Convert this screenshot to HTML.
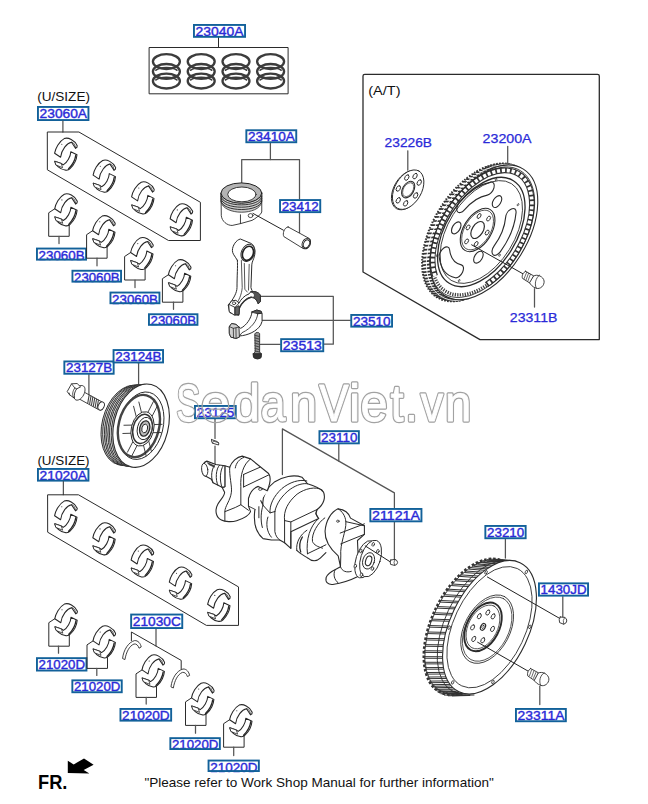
<!DOCTYPE html>
<html lang="en">
<head>
<meta charset="utf-8">
<title>Piston, crankshaft and flywheel parts diagram</title>
<style>
html,body{margin:0;padding:0;background:#fff;}
body{width:648px;height:804px;overflow:hidden;}
svg{display:block;font-family:"Liberation Sans",sans-serif;}
</style>
</head>
<body>
<svg width="648" height="804" viewBox="0 0 648 804" stroke-linecap="round" stroke-linejoin="round">
<rect x="0" y="0" width="648" height="804" fill="#ffffff"/>
<defs>
<g id="brg" fill="#fff" stroke="#262626" stroke-width="1.05">
<path d="M0,15.3 C0.8,10.6 4.4,3.4 9.6,0.7 C13.4,-0.9 20.2,2.2 22.6,7.8 C22.8,9.2 22,10 20.9,10.4 L16.9,4.3 C12.4,5 6.9,11.6 6,19.3 Z"/>
<path d="M16.9,4.3 C18.8,4.4 20.6,6.4 20.9,10.4" fill="none" stroke-width="0.8"/>
<path d="M0.3,23.4 C0.9,27.4 5.4,31.4 10.4,32.2 C12.4,32.6 14.2,32.2 15.4,30.8 C19,27.4 22,21.6 22.4,16.8 L16.2,13.8 C16,18.6 12.6,24.8 8.6,27 L6.7,25.6 Z"/>
<path d="M0.3,23.4 L6.7,25.6 L8,29.8 L1.6,27.2 Z" stroke-width="0.8"/>
<path d="M21.2,17.2 C20.6,21.6 17.8,27 14,30.9" fill="none" stroke-width="1.3"/>
<circle cx="7.2" cy="6.4" r="0.55" fill="#2b2b2b" stroke="none"/>
</g>
</defs>
<path d="M218.50,37.00 L218.50,47.40" fill="none" stroke="#2b2b2b" stroke-width="1"/>
<rect x="149.5" y="47.5" width="138.6" height="46.3" fill="none" stroke="#2b2b2b" stroke-width="1"/>
<ellipse cx="166.4" cy="61.6" rx="13.5" ry="7.4" fill="none" stroke="#3c3c3c" stroke-width="2.3"/>
<ellipse cx="166.4" cy="71.4" rx="13.5" ry="7.4" fill="none" stroke="#3c3c3c" stroke-width="2.3"/>
<path d="M155.9,70.2 A11.5,4.6 0 0 1 176.9,70.2" fill="none" stroke="#3c3c3c" stroke-width="1.6"/>
<ellipse cx="166.4" cy="81.1" rx="13.5" ry="7.4" fill="none" stroke="#3c3c3c" stroke-width="2.3"/>
<path d="M155.9,79.89999999999999 A11.5,4.6 0 0 1 176.9,79.89999999999999" fill="none" stroke="#3c3c3c" stroke-width="1.6"/>
<ellipse cx="201.2" cy="61.6" rx="13.5" ry="7.4" fill="none" stroke="#3c3c3c" stroke-width="2.3"/>
<ellipse cx="201.2" cy="71.4" rx="13.5" ry="7.4" fill="none" stroke="#3c3c3c" stroke-width="2.3"/>
<path d="M190.7,70.2 A11.5,4.6 0 0 1 211.7,70.2" fill="none" stroke="#3c3c3c" stroke-width="1.6"/>
<ellipse cx="201.2" cy="81.1" rx="13.5" ry="7.4" fill="none" stroke="#3c3c3c" stroke-width="2.3"/>
<path d="M190.7,79.89999999999999 A11.5,4.6 0 0 1 211.7,79.89999999999999" fill="none" stroke="#3c3c3c" stroke-width="1.6"/>
<ellipse cx="236" cy="61.6" rx="13.5" ry="7.4" fill="none" stroke="#3c3c3c" stroke-width="2.3"/>
<ellipse cx="236" cy="71.4" rx="13.5" ry="7.4" fill="none" stroke="#3c3c3c" stroke-width="2.3"/>
<path d="M225.5,70.2 A11.5,4.6 0 0 1 246.5,70.2" fill="none" stroke="#3c3c3c" stroke-width="1.6"/>
<ellipse cx="236" cy="81.1" rx="13.5" ry="7.4" fill="none" stroke="#3c3c3c" stroke-width="2.3"/>
<path d="M225.5,79.89999999999999 A11.5,4.6 0 0 1 246.5,79.89999999999999" fill="none" stroke="#3c3c3c" stroke-width="1.6"/>
<ellipse cx="270.6" cy="61.6" rx="13.5" ry="7.4" fill="none" stroke="#3c3c3c" stroke-width="2.3"/>
<ellipse cx="270.6" cy="71.4" rx="13.5" ry="7.4" fill="none" stroke="#3c3c3c" stroke-width="2.3"/>
<path d="M260.1,70.2 A11.5,4.6 0 0 1 281.1,70.2" fill="none" stroke="#3c3c3c" stroke-width="1.6"/>
<ellipse cx="270.6" cy="81.1" rx="13.5" ry="7.4" fill="none" stroke="#3c3c3c" stroke-width="2.3"/>
<path d="M260.1,79.89999999999999 A11.5,4.6 0 0 1 281.1,79.89999999999999" fill="none" stroke="#3c3c3c" stroke-width="1.6"/>
<rect x="193.95" y="24.95" width="51.10" height="11.90" fill="#fff" stroke="none"/>
<text x="195.60" y="35.90" fill="#2a2ad8" stroke="#2a2ad8" stroke-width="0.4" font-size="13" textLength="48.0" lengthAdjust="spacingAndGlyphs">23040A</text>
<rect x="193.95" y="24.95" width="51.10" height="11.90" fill="none" stroke="#12619a" stroke-width="1.9" stroke-linejoin="miter"/>
<text x="37.20" y="101.20" fill="#111" stroke="#111" stroke-width="0" font-size="12.6" textLength="52.8" lengthAdjust="spacingAndGlyphs">(U/SIZE)</text>
<rect x="37.95" y="106.95" width="50.50" height="13.10" fill="#fff" stroke="none"/>
<text x="39.60" y="117.90" fill="#2a2ad8" stroke="#2a2ad8" stroke-width="0.4" font-size="13" textLength="47.4" lengthAdjust="spacingAndGlyphs">23060A</text>
<rect x="37.95" y="106.95" width="50.50" height="13.10" fill="none" stroke="#12619a" stroke-width="1.9" stroke-linejoin="miter"/>
<path d="M62.90,121.00 L62.90,132.00" fill="none" stroke="#555" stroke-width="1.25"/>
<path d="M47.70,132.00 L78.90,132.00 L200.40,202.30 L200.40,240.50 L168.50,240.50 L47.70,170.00 Z" fill="none" stroke="#2b2b2b" stroke-width="1"/>
<use href="#brg" x="54.6" y="137.9"/>
<use href="#brg" x="93.1" y="159.8"/>
<use href="#brg" x="131.6" y="181.6"/>
<use href="#brg" x="170.1" y="203.5"/>
<path d="M55.20,208.50 L48.70,212.80 L48.70,236.30 L69.20,236.30 L69.20,225.00" fill="none" stroke="#2b2b2b" stroke-width="1"/>
<path d="M59.00,236.30 L59.00,243.60" fill="none" stroke="#555" stroke-width="1.25"/>
<use href="#brg" x="54.7" y="193.5"/>
<rect x="36.95" y="248.55" width="49.10" height="11.10" fill="#fff" stroke="none"/>
<text x="38.60" y="259.50" fill="#2a2ad8" stroke="#2a2ad8" stroke-width="0.4" font-size="13" textLength="46.0" lengthAdjust="spacingAndGlyphs">23060B</text>
<rect x="36.95" y="248.55" width="49.10" height="11.10" fill="none" stroke="#12619a" stroke-width="1.9" stroke-linejoin="miter"/>
<path d="M93.10,230.40 L86.60,234.70 L86.60,258.20 L107.10,258.20 L107.10,246.90" fill="none" stroke="#2b2b2b" stroke-width="1"/>
<path d="M97.00,258.20 L97.00,265.80" fill="none" stroke="#555" stroke-width="1.25"/>
<use href="#brg" x="92.6" y="215.4"/>
<rect x="72.45" y="270.75" width="48.60" height="10.90" fill="#fff" stroke="none"/>
<text x="74.10" y="281.70" fill="#2a2ad8" stroke="#2a2ad8" stroke-width="0.4" font-size="13" textLength="45.5" lengthAdjust="spacingAndGlyphs">23060B</text>
<rect x="72.45" y="270.75" width="48.60" height="10.90" fill="none" stroke="#12619a" stroke-width="1.9" stroke-linejoin="miter"/>
<path d="M131.10,252.20 L124.60,256.50 L124.60,280.00 L145.10,280.00 L145.10,268.70" fill="none" stroke="#2b2b2b" stroke-width="1"/>
<path d="M135.00,280.00 L135.00,287.60" fill="none" stroke="#555" stroke-width="1.25"/>
<use href="#brg" x="130.6" y="237.2"/>
<rect x="110.45" y="292.55" width="49.00" height="10.70" fill="#fff" stroke="none"/>
<text x="112.10" y="303.50" fill="#2a2ad8" stroke="#2a2ad8" stroke-width="0.4" font-size="13" textLength="45.9" lengthAdjust="spacingAndGlyphs">23060B</text>
<rect x="110.45" y="292.55" width="49.00" height="10.70" fill="none" stroke="#12619a" stroke-width="1.9" stroke-linejoin="miter"/>
<path d="M168.90,274.40 L162.40,278.70 L162.40,302.20 L182.90,302.20 L182.90,290.90" fill="none" stroke="#2b2b2b" stroke-width="1"/>
<path d="M173.50,302.20 L173.50,309.30" fill="none" stroke="#555" stroke-width="1.25"/>
<use href="#brg" x="168.4" y="259.4"/>
<rect x="148.95" y="314.25" width="48.50" height="10.60" fill="#fff" stroke="none"/>
<text x="150.60" y="325.20" fill="#2a2ad8" stroke="#2a2ad8" stroke-width="0.4" font-size="13" textLength="45.4" lengthAdjust="spacingAndGlyphs">23060B</text>
<rect x="148.95" y="314.25" width="48.50" height="10.60" fill="none" stroke="#12619a" stroke-width="1.9" stroke-linejoin="miter"/>
<text x="37.40" y="464.60" fill="#111" stroke="#111" stroke-width="0" font-size="12.6" textLength="52.2" lengthAdjust="spacingAndGlyphs">(U/SIZE)</text>
<rect x="37.95" y="468.95" width="50.50" height="11.70" fill="#fff" stroke="none"/>
<text x="39.60" y="479.90" fill="#2a2ad8" stroke="#2a2ad8" stroke-width="0.4" font-size="13" textLength="47.4" lengthAdjust="spacingAndGlyphs">21020A</text>
<rect x="37.95" y="468.95" width="50.50" height="11.70" fill="none" stroke="#12619a" stroke-width="1.9" stroke-linejoin="miter"/>
<path d="M63.30,481.60 L63.30,494.80" fill="none" stroke="#2b2b2b" stroke-width="1"/>
<path d="M48.00,494.80 L78.50,494.80 L238.50,586.90 L238.50,625.40 L206.40,625.40 L48.00,532.40 Z" fill="none" stroke="#2b2b2b" stroke-width="1"/>
<use href="#brg" x="54.6" y="500.4"/>
<use href="#brg" x="92.8" y="522.5"/>
<use href="#brg" x="131.1" y="544.7"/>
<use href="#brg" x="169.3" y="566.8"/>
<use href="#brg" x="207.6" y="589.0"/>
<path d="M55.30,618.40 L48.80,622.70 L48.80,646.20 L69.30,646.20 L69.30,634.90" fill="none" stroke="#2b2b2b" stroke-width="1"/>
<path d="M58.50,646.20 L58.50,653.20" fill="none" stroke="#555" stroke-width="1.25"/>
<use href="#brg" x="54.8" y="603.4"/>
<rect x="36.95" y="658.15" width="49.50" height="12.40" fill="#fff" stroke="none"/>
<text x="38.60" y="669.10" fill="#2a2ad8" stroke="#2a2ad8" stroke-width="0.4" font-size="13" textLength="46.4" lengthAdjust="spacingAndGlyphs">21020D</text>
<rect x="36.95" y="658.15" width="49.50" height="12.40" fill="none" stroke="#12619a" stroke-width="1.9" stroke-linejoin="miter"/>
<path d="M93.50,640.60 L87.00,644.90 L87.00,668.40 L107.50,668.40 L107.50,657.10" fill="none" stroke="#2b2b2b" stroke-width="1"/>
<path d="M96.80,668.40 L96.80,675.40" fill="none" stroke="#555" stroke-width="1.25"/>
<use href="#brg" x="93.0" y="625.6"/>
<rect x="72.35" y="680.35" width="49.40" height="11.90" fill="#fff" stroke="none"/>
<text x="74.00" y="691.30" fill="#2a2ad8" stroke="#2a2ad8" stroke-width="0.4" font-size="13" textLength="46.3" lengthAdjust="spacingAndGlyphs">21020D</text>
<rect x="72.35" y="680.35" width="49.40" height="11.90" fill="none" stroke="#12619a" stroke-width="1.9" stroke-linejoin="miter"/>
<path d="M142.50,669.60 L136.00,673.90 L136.00,697.40 L156.50,697.40 L156.50,686.10" fill="none" stroke="#2b2b2b" stroke-width="1"/>
<path d="M146.20,697.40 L146.20,704.00" fill="none" stroke="#555" stroke-width="1.25"/>
<use href="#brg" x="142.0" y="654.6"/>
<rect x="120.45" y="708.95" width="50.70" height="11.70" fill="#fff" stroke="none"/>
<text x="122.10" y="719.90" fill="#2a2ad8" stroke="#2a2ad8" stroke-width="0.4" font-size="13" textLength="47.6" lengthAdjust="spacingAndGlyphs">21020D</text>
<rect x="120.45" y="708.95" width="50.70" height="11.70" fill="none" stroke="#12619a" stroke-width="1.9" stroke-linejoin="miter"/>
<path d="M192.00,697.60 L185.50,701.90 L185.50,725.40 L206.00,725.40 L206.00,714.10" fill="none" stroke="#2b2b2b" stroke-width="1"/>
<path d="M195.50,725.40 L195.50,733.20" fill="none" stroke="#555" stroke-width="1.25"/>
<use href="#brg" x="191.5" y="682.6"/>
<rect x="170.35" y="738.15" width="49.50" height="10.90" fill="#fff" stroke="none"/>
<text x="172.00" y="749.10" fill="#2a2ad8" stroke="#2a2ad8" stroke-width="0.4" font-size="13" textLength="46.4" lengthAdjust="spacingAndGlyphs">21020D</text>
<rect x="170.35" y="738.15" width="49.50" height="10.90" fill="none" stroke="#12619a" stroke-width="1.9" stroke-linejoin="miter"/>
<path d="M230.10,719.40 L223.60,723.70 L223.60,747.20 L244.10,747.20 L244.10,735.90" fill="none" stroke="#2b2b2b" stroke-width="1"/>
<path d="M233.70,747.20 L233.70,755.60" fill="none" stroke="#555" stroke-width="1.25"/>
<use href="#brg" x="229.6" y="704.4"/>
<rect x="208.55" y="760.55" width="50.30" height="10.50" fill="#fff" stroke="none"/>
<text x="210.20" y="771.50" fill="#2a2ad8" stroke="#2a2ad8" stroke-width="0.4" font-size="13" textLength="47.2" lengthAdjust="spacingAndGlyphs">21020D</text>
<rect x="208.55" y="760.55" width="50.30" height="10.50" fill="none" stroke="#12619a" stroke-width="1.9" stroke-linejoin="miter"/>
<path d="M156.00,629.00 L156.00,646.00" fill="none" stroke="#2b2b2b" stroke-width="1"/>
<path d="M131.40,640.60 L131.40,632.00 L181.20,660.40 L181.20,669.00" fill="none" stroke="#2b2b2b" stroke-width="1"/>
<path d="M122.6,658.1 C123.6,649.6 128.6,642.1 134.6,640.6 C138.1,640.3000000000001 140.6,643.6 141.2,647.0 L139.0,648.2 C138.2,645.2 136.2,643.6 134.0,644.0 C129.2,646.0 126.19999999999999,652.2 125.0,659.2 Z" fill="#fff" stroke="#2b2b2b" stroke-width="0.9"/>
<path d="M171,686.5 C172,678 177,670.5 183,669 C186.5,668.7 189,672 189.6,675.4 L187.4,676.6 C186.6,673.6 184.6,672 182.4,672.4 C177.6,674.4 174.6,680.6 173.4,687.6 Z" fill="#fff" stroke="#2b2b2b" stroke-width="0.9"/>
<rect x="131.15" y="614.55" width="51.10" height="13.50" fill="#fff" stroke="none"/>
<text x="132.80" y="625.50" fill="#2a2ad8" stroke="#2a2ad8" stroke-width="0.4" font-size="13" textLength="48.0" lengthAdjust="spacingAndGlyphs">21030C</text>
<rect x="131.15" y="614.55" width="51.10" height="13.50" fill="none" stroke="#12619a" stroke-width="1.9" stroke-linejoin="miter"/>
<text x="38.00" y="788.60" fill="#000" stroke="#000" stroke-width="0" font-size="20" font-weight="bold" textLength="29.4" lengthAdjust="spacingAndGlyphs">FR.</text>
<path d="M67.8,760.8 L73.7,764.4 L84,758.5 L93.6,764.7 L83.7,770.1 L89.4,773.5 L67.8,773.1 Z" fill="#000" stroke="none"/>
<text x="144.40" y="787.20" fill="#111" stroke="#111" stroke-width="0" font-size="12.9" textLength="349.4" lengthAdjust="spacingAndGlyphs">&quot;Please refer to Work Shop Manual for further information&quot;</text>
<path d="M270.40,143.00 L270.40,159.50" fill="none" stroke="#555" stroke-width="1.25"/>
<path d="M241.70,183.30 L241.70,159.50 L299.50,159.50 L299.50,199.00" fill="none" stroke="#555" stroke-width="1.25"/>
<path d="M299.50,213.00 L299.50,232.70" fill="none" stroke="#555" stroke-width="1.25"/>
<path d="M221.02 193.06 L221.30 215.74 C221.94 221.30 227.04 225.46 232.13 225.46 L240.46 223.61 L252.04 220.37 C255.74 218.52 258.52 215.74 260.37 214.35 L261.76 212.04 L261.76 193.06 Z" fill="#fff" stroke="#2b2b2b" stroke-width="0.9" />
<path d="M240.46 214.81 L240.46 223.61" fill="none" stroke="#2b2b2b" stroke-width="0.9" />
<path d="M221.02 193.52 C221.48 205.56 261.30 205.56 261.76 193.52 L261.76 201.85 C259.44 215.74 223.33 215.74 221.02 201.85 Z" fill="#cfcfcf" stroke="#2b2b2b" stroke-width="0.8" />
<path d="M221.11 196.30 C221.94 207.87 260.83 207.87 261.76 196.30" fill="none" stroke="#222" stroke-width="0.9" />
<path d="M221.11 198.61 C221.94 210.19 260.83 210.19 261.76 198.61" fill="none" stroke="#222" stroke-width="0.9" />
<path d="M221.11 200.93 C221.94 212.50 260.83 212.50 261.76 200.93" fill="none" stroke="#222" stroke-width="0.9" />
<ellipse cx="241.4" cy="193.1" rx="20.4" ry="10.2" fill="#b4b4b4" stroke="#222" stroke-width="1"/>
<ellipse cx="241.9" cy="194.4" rx="14.2" ry="7.4" fill="#fff" stroke="#222" stroke-width="0.9"/>
<ellipse cx="250.6" cy="215.6" rx="2.4" ry="2" fill="#fff" stroke="#222" stroke-width="0.8"/>
<path d="M253.00,213.40 L283.40,230.20" fill="none" stroke="#222" stroke-width="1"/>
<path d="M288.13 226.96 L309.35 238.53 C312.05 240.46 310.12 248.95 303.18 248.56 L283.89 236.60 C282.35 234.29 283.89 227.35 288.13 226.96 Z" fill="#fff" stroke="#2b2b2b" stroke-width="0.9" />
<ellipse cx="306.3" cy="243.6" rx="4" ry="5.4" transform="rotate(25 306.3 243.6)" fill="#fff" stroke="#222" stroke-width="0.9"/>
<ellipse cx="306.5" cy="243.8" rx="2.9" ry="4.2" transform="rotate(25 306.5 243.8)" fill="#fff" stroke="#222" stroke-width="0.9"/>
<rect x="246.35" y="130.25" width="49.90" height="12.00" fill="#fff" stroke="none"/>
<text x="248.00" y="141.20" fill="#2a2ad8" stroke="#2a2ad8" stroke-width="0.4" font-size="13" textLength="46.8" lengthAdjust="spacingAndGlyphs">23410A</text>
<rect x="246.35" y="130.25" width="49.90" height="12.00" fill="none" stroke="#12619a" stroke-width="1.9" stroke-linejoin="miter"/>
<rect x="280.05" y="200.05" width="40.20" height="12.10" fill="#fff" stroke="none"/>
<text x="281.70" y="211.00" fill="#2a2ad8" stroke="#2a2ad8" stroke-width="0.4" font-size="13" textLength="37.1" lengthAdjust="spacingAndGlyphs">23412</text>
<rect x="280.05" y="200.05" width="40.20" height="12.10" fill="none" stroke="#12619a" stroke-width="1.9" stroke-linejoin="miter"/>
<path d="M260.50,296.40 L333.30,296.40 L333.30,344.20 L324.00,344.20" fill="none" stroke="#555" stroke-width="1.25"/>
<path d="M261.40,320.30 L350.30,320.30" fill="none" stroke="#555" stroke-width="1.25"/>
<path d="M260.50,344.40 L280.20,344.40" fill="none" stroke="#555" stroke-width="1.25"/>
<path d="M237.35 260.31 C234.39 255.26 232.40 253.87 232.40 250.38 C232.40 245.68 236.13 239.93 240.40 239.01 L251.46 243.59 C254.95 245.68 255.64 251.78 254.43 256.13 C253.55 259.62 251.81 262.23 251.81 264.84 L250.94 287.49 C251.81 291.85 255.30 294.81 259.65 296.20 L260.52 300.56 C259.65 304.04 257.91 303.17 257.04 300.56 C254.43 297.07 249.20 296.20 244.84 299.69 C241.36 302.30 239.62 305.78 238.75 309.27 L238.75 315.37 L230.03 312.75 L228.29 305.26 C233.52 298.82 237.00 292.72 237.00 287.49 C237.00 275.30 237.87 266.59 237.35 260.31 Z" fill="#fff" stroke="#2b2b2b" stroke-width="1" />
<ellipse cx="247.84" cy="252.90" rx="6.5" ry="8.95" transform="rotate(22 247.84 252.90)" fill="#fff" stroke="#2b2b2b" stroke-width="0.9"/>
<ellipse cx="247.96" cy="253.33" rx="5.3" ry="7.3" transform="rotate(22 247.96 253.33)" fill="#fff" stroke="#222" stroke-width="1.7"/>
<path d="M241.36 260.49 L242.23 287.49 C241.71 294.46 238.75 301.43 234.39 306.66" fill="none" stroke="#2b2b2b" stroke-width="0.8" />
<path d="M244.32 263.45 L244.84 289.23 L247.28 292.02 M249.20 264.32 L248.50 290.10" fill="none" stroke="#2b2b2b" stroke-width="0.8" />
<path d="M228.29 305.26 L234.39 306.66 L238.75 309.27 M234.39 306.66 L234.91 313.97" fill="none" stroke="#2b2b2b" stroke-width="0.8" />
<path d="M251.81 297.07 C254.43 294.81 257.04 294.81 259.65 296.20" fill="none" stroke="#2b2b2b" stroke-width="0.8" />
<ellipse cx="233.4" cy="303.2" rx="1.6" ry="1.1" fill="#fff" stroke="#222" stroke-width="0.7"/>
<path d="M228.97 304.37 L231.58 300.89 L235.94 300.28 L238.99 303.07 C240.73 299.58 244.65 295.23 249.00 293.92 L250.75 291.74 C254.23 290.87 258.59 292.18 260.33 295.23 L260.33 301.32 L258.15 303.76 C256.84 299.58 254.23 296.97 251.18 297.14 C246.39 297.84 241.60 303.07 239.42 307.86 L238.99 314.56 L234.20 315.09 L229.40 311.78 Z" fill="#fff" stroke="#2b2b2b" stroke-width="1" />
<path d="M250.75 291.74 C254.23 290.87 258.59 292.18 260.33 295.23 L260.33 301.32 L258.15 303.76 C257.28 300.45 255.54 298.28 253.36 297.40 C254.67 296.10 255.10 294.36 253.36 293.05 Z" fill="#555" stroke="#2b2b2b" stroke-width="0.8" />
<path d="M235.07 307.42 L238.99 305.68 L239.42 307.86 L238.99 314.56 L235.07 314.83 Z" fill="#666" stroke="#2b2b2b" stroke-width="0.8" />
<path d="M228.97 304.37 L235.07 307.42 L238.99 303.07 M235.07 307.42 L235.07 314.83" fill="none" stroke="#2b2b2b" stroke-width="0.9" />
<ellipse cx="234.02" cy="303.24" rx="1.7" ry="1.4" fill="#fff" stroke="#2b2b2b" stroke-width="0.8"/>
<path d="M239.42 307.86 C241.60 303.07 246.39 297.84 251.18 297.14" fill="none" stroke="#333" stroke-width="1.5" />
<path d="M252.05 311.95 L256.84 310.03 L261.20 311.34 L262.07 313.52 L262.07 321.36 L260.76 324.84 C256.84 331.38 248.13 335.30 239.42 335.99 L239.42 337.04 L235.94 338.43 L230.71 337.04 L229.40 333.55 L229.40 326.59 L231.58 323.54 L235.94 324.41 L238.99 327.02 L240.73 328.33 C246.39 325.28 251.18 318.75 252.05 311.95 Z" fill="#fff" stroke="#2b2b2b" stroke-width="1" />
<path d="M252.05 311.95 L256.84 310.03 L261.20 311.34 L261.63 313.34 L257.71 313.69 Z" fill="#555" stroke="#2b2b2b" stroke-width="0.8" />
<path d="M257.71 313.69 C257.28 320.49 251.62 328.33 242.03 332.68 L239.42 335.99 M257.71 313.69 L261.63 313.34" fill="none" stroke="#2b2b2b" stroke-width="0.85" />
<path d="M229.40 326.59 L231.58 323.54 L235.94 324.41 L238.99 327.02 L239.42 337.04 L235.94 338.43 L230.71 337.04 L229.40 333.55 Z" fill="#cfcfcf" stroke="#2b2b2b" stroke-width="0.9" />
<path d="M229.40 326.59 L233.32 328.33 L238.99 327.02 M233.32 328.33 L233.50 337.74 M235.94 328.33 L236.11 338.08" fill="none" stroke="#2b2b2b" stroke-width="0.8" />
<path d="M254.93 333.55 C255.54 331.99 259.02 331.99 259.63 333.55 L259.63 352.28 L261.37 353.59 L261.02 357.51 C259.46 359.25 255.54 359.25 253.79 357.51 L253.36 353.59 L254.93 352.28 Z" fill="#9a9a9a" stroke="#2b2b2b" stroke-width="0.9" />
<path d="M254.93 335.30 L259.63 336.60 M254.93 337.91 L259.63 339.22 M254.93 340.52 L259.63 341.83 M254.93 343.14 L259.63 344.44 M254.93 345.75 L259.63 347.06 M254.93 348.36 L259.63 349.67 M254.93 350.98 L259.63 352.02" fill="none" stroke="#444" stroke-width="1.0" />
<path d="M253.36 353.59 L261.37 353.59 L261.02 357.51 C259.46 359.25 255.54 359.25 253.79 357.51 Z" fill="#333" stroke="#2b2b2b" stroke-width="0.8" />
<rect x="351.25" y="314.95" width="40.80" height="11.70" fill="#fff" stroke="none"/>
<text x="352.90" y="325.90" fill="#2a2ad8" stroke="#2a2ad8" stroke-width="0.4" font-size="13" textLength="37.7" lengthAdjust="spacingAndGlyphs">23510</text>
<rect x="351.25" y="314.95" width="40.80" height="11.70" fill="none" stroke="#12619a" stroke-width="1.9" stroke-linejoin="miter"/>
<rect x="281.15" y="339.15" width="42.10" height="12.10" fill="#fff" stroke="none"/>
<text x="282.80" y="350.10" fill="#2a2ad8" stroke="#2a2ad8" stroke-width="0.4" font-size="13" textLength="39.0" lengthAdjust="spacingAndGlyphs">23513</text>
<rect x="281.15" y="339.15" width="42.10" height="12.10" fill="none" stroke="#12619a" stroke-width="1.9" stroke-linejoin="miter"/>
<path d="M363,272 L363,76 Q363,74.3 364.8,74.3 L597.5,74.3 Q599.3,74.3 599.3,76 L599.3,339.6 L480,339.6 Z" fill="none" stroke="#2b2b2b" stroke-width="1.3"/>
<text x="368.20" y="94.80" fill="#111" stroke="#111" stroke-width="0" font-size="12.6" textLength="32.3" lengthAdjust="spacingAndGlyphs">(A/T)</text>
<text x="384.60" y="146.60" fill="#2a2ad8" stroke="#2a2ad8" stroke-width="0.25" font-size="12.3" textLength="47.4" lengthAdjust="spacingAndGlyphs">23226B</text>
<text x="482.60" y="143.20" fill="#2a2ad8" stroke="#2a2ad8" stroke-width="0.25" font-size="12.3" textLength="49.0" lengthAdjust="spacingAndGlyphs">23200A</text>
<text x="509.80" y="322.40" fill="#2a2ad8" stroke="#2a2ad8" stroke-width="0.25" font-size="12.3" textLength="47.6" lengthAdjust="spacingAndGlyphs">23311B</text>
<path d="M407.80,150.80 L407.80,170.20" fill="none" stroke="#555" stroke-width="1.25"/>
<path d="M507.70,146.40 L507.70,163.70" fill="none" stroke="#555" stroke-width="1.25"/>
<path d="M534.50,288.70 L534.50,307.00" fill="none" stroke="#555" stroke-width="1.25"/>
<g transform="translate(477.3,232.4) rotate(-58) scale(1,0.58)" fill="none" stroke="#2b2b2b" stroke-linecap="butt">
<circle r="76.4" fill="#fff" stroke-width="2" stroke="#333" stroke-dasharray="1.5 1.5" vector-effect="non-scaling-stroke"/>
</g>
<path d="M469.07,298.21 L462.09,299.99 M465.97,298.88 L458.92,300.68 M462.94,299.31 L455.80,301.12 M459.98,299.49 L452.77,301.31 M457.11,299.43 L449.83,301.24 M454.34,299.12 L446.98,300.93 M451.67,298.57 L444.25,300.36 M449.13,297.78 L441.64,299.55 M446.71,296.75 L439.16,298.49 M444.42,295.48 L436.81,297.19 M442.28,293.98 L434.62,295.65 M440.29,292.26 L432.58,293.89 M438.46,290.32 L430.70,291.90 M436.80,288.16 L429.00,289.69 M435.31,285.81 L427.47,287.27 M433.99,283.25 L426.12,284.65 M432.86,280.52 L424.96,281.85 M431.91,277.60 L423.99,278.86 M431.16,274.52 L423.21,275.70 M430.59,271.29 L422.63,272.38 M430.22,267.91 L422.25,268.92 M430.05,264.41 L422.08,265.33 M430.07,260.78 L422.10,261.61 M430.29,257.06 L422.32,257.79 M430.71,253.24 L422.75,253.87 M431.32,249.35 L423.37,249.88 M432.12,245.39 L424.20,245.82 M433.11,241.39 L425.21,241.72 M434.28,237.35 L426.42,237.58 M435.64,233.29 L427.81,233.42 M437.17,229.24 L429.38,229.26 M438.87,225.19 L431.12,225.11 M440.74,221.17 L433.04,220.98 M442.76,217.18 L435.12,216.90 M444.94,213.26 L437.35,212.87 M447.26,209.40 L439.72,208.92 M449.71,205.63 L442.23,205.05 M452.28,201.95 L444.88,201.28 M454.97,198.39 L447.63,197.62 M457.77,194.95 L450.50,194.10 M460.66,191.64 L453.47,190.71 M463.64,188.49 L456.52,187.47 M466.69,185.49 L459.65,184.40 M469.80,182.66 L462.84,181.50 M472.96,180.02 L466.09,178.79 M476.17,177.57 L469.37,176.27 M479.40,175.31 L472.69,173.96 M482.65,173.26 L476.02,171.86 M485.90,171.43 L479.36,169.98 M489.15,169.83 L482.68,168.33 M492.38,168.44 L485.99,166.92 M495.57,167.30 L489.27,165.74 M498.73,166.39 L492.51,164.81 M501.83,165.72 L495.68,164.12 M504.86,165.29 L498.80,163.68 M507.82,165.11 L501.83,163.49 M510.69,165.17 L504.77,163.56 M513.46,165.48 L507.62,163.87 M516.13,166.03 L510.35,164.44" fill="none" stroke="#333" stroke-width="1.7" stroke-linecap="butt"/>
<g transform="translate(480.92999999999995,232.34500000000003) rotate(-58) scale(1,0.58)" fill="none" stroke="#2b2b2b" stroke-linecap="butt">
<circle r="75.45" stroke-width="0.9" stroke="#fff" vector-effect="non-scaling-stroke"/>
</g>
<g transform="translate(483.9,232.3) rotate(-58) scale(1,0.58)" fill="none" stroke="#2b2b2b" stroke-linecap="butt">
<circle r="74.5" fill="#fff" stroke-width="1.1" vector-effect="non-scaling-stroke"/>
</g>
<g transform="translate(482.3,232.2) rotate(-58) scale(1,0.58)" fill="none" stroke="#2b2b2b" stroke-linecap="butt">
<path d="M-62.17,-28.99 A68.6,68.6 0 1 1 -42.23,54.06" stroke-width="5.8" stroke="#333" vector-effect="non-scaling-stroke"/>
<path d="M-62.17,-28.99 A68.6,68.6 0 1 1 -42.23,54.06" stroke-width="3.6" stroke="#fff" stroke-dasharray="3.2 1.7" vector-effect="non-scaling-stroke"/>
<path d="M-42.79,54.77 A69.5,69.5 0 0 1 -62.99,-29.37" stroke-width="3.4" stroke="#444" stroke-dasharray="1.3 1.2" vector-effect="non-scaling-stroke"/>
<circle r="72.4" stroke-width="0.9" vector-effect="non-scaling-stroke"/>
</g>
<g transform="translate(481.3,232) rotate(-58) scale(1,0.58)" fill="none" stroke="#2b2b2b" stroke-linecap="butt">
<circle r="60.5" fill="#fff" stroke-width="1.3" vector-effect="non-scaling-stroke"/>
<circle r="57" stroke-width="0.9" vector-effect="non-scaling-stroke"/>
</g>
<g transform="translate(477.6,230) rotate(-58) scale(1,0.58)" fill="none" stroke="#2b2b2b" stroke-linecap="butt">
<path d="M13.85,-51.68 A53.5,53.5 0 0 1 47.67,-24.29 A7.25,7.25 0 0 1 34.75,-17.71 A39,39 0 0 0 10.09,-37.67 A7.25,7.25 0 0 1 13.85,-51.68 Z" stroke-width="1.1" vector-effect="non-scaling-stroke"/>
<path d="M35.10,40.38 A53.5,53.5 0 0 1 -6.52,53.10 A7.25,7.25 0 0 1 -4.75,38.71 A39,39 0 0 0 25.59,29.43 A7.25,7.25 0 0 1 35.10,40.38 Z" stroke-width="1.1" vector-effect="non-scaling-stroke"/>
<path d="M-52.33,11.12 A53.5,53.5 0 0 1 -43.28,-31.45 A7.25,7.25 0 0 1 -31.55,-22.92 A39,39 0 0 0 -38.15,8.11 A7.25,7.25 0 0 1 -52.33,11.12 Z" stroke-width="1.1" vector-effect="non-scaling-stroke"/>
<circle cx="34.42" cy="2.41" r="6.6" stroke-width="1.1" vector-effect="non-scaling-stroke"/>
<circle cx="-22.63" cy="26.04" r="6.6" stroke-width="1.1" vector-effect="non-scaling-stroke"/>
<circle cx="-9.51" cy="-33.16" r="6.6" stroke-width="1.1" vector-effect="non-scaling-stroke"/>
<circle cx="42.90" cy="36.00" r="1.2" stroke-width="0.8" vector-effect="non-scaling-stroke"/>
<circle cx="-9.72" cy="55.15" r="1.2" stroke-width="0.8" vector-effect="non-scaling-stroke"/>
<circle cx="-52.62" cy="19.15" r="1.2" stroke-width="0.8" vector-effect="non-scaling-stroke"/>
<circle cx="-42.90" cy="-36.00" r="1.2" stroke-width="0.8" vector-effect="non-scaling-stroke"/>
<circle cx="14.49" cy="-54.09" r="1.2" stroke-width="0.8" vector-effect="non-scaling-stroke"/>
<circle cx="52.62" cy="-19.15" r="1.2" stroke-width="0.8" vector-effect="non-scaling-stroke"/>
<circle r="24" stroke-width="1.1" vector-effect="non-scaling-stroke"/>
<circle r="22" stroke-width="0.8" vector-effect="non-scaling-stroke"/>
<circle r="9.4" stroke-width="1.2" vector-effect="non-scaling-stroke"/>
<circle cx="15.50" cy="5.64" r="2.7" stroke-width="1" vector-effect="non-scaling-stroke"/>
<circle cx="2.87" cy="16.25" r="2.7" stroke-width="1" vector-effect="non-scaling-stroke"/>
<circle cx="-12.64" cy="10.61" r="2.7" stroke-width="1" vector-effect="non-scaling-stroke"/>
<circle cx="-15.50" cy="-5.64" r="2.7" stroke-width="1" vector-effect="non-scaling-stroke"/>
<circle cx="-2.87" cy="-16.25" r="2.7" stroke-width="1" vector-effect="non-scaling-stroke"/>
<circle cx="12.64" cy="-10.61" r="2.7" stroke-width="1" vector-effect="non-scaling-stroke"/>
</g>
<g transform="translate(407.2,190) rotate(-60) scale(1,0.62)" fill="none" stroke="#2b2b2b"><circle r="21.5" fill="#fff" stroke-width="1" vector-effect="non-scaling-stroke"/></g>
<g transform="translate(408.2,189.6) rotate(-60) scale(1,0.62)" fill="none" stroke="#2b2b2b"><circle r="21.5" fill="#fff" stroke-width="1" vector-effect="non-scaling-stroke"/><circle r="9" stroke-width="1.1" vector-effect="non-scaling-stroke"/><circle r="7.6" stroke-width="0.7" vector-effect="non-scaling-stroke"/><circle cx="15.14" cy="-1.32" r="3" stroke-width="1" vector-effect="non-scaling-stroke"/><circle cx="11.64" cy="9.77" r="3" stroke-width="1" vector-effect="non-scaling-stroke"/><circle cx="-1.32" cy="15.14" r="3" stroke-width="1" vector-effect="non-scaling-stroke"/><circle cx="-13.16" cy="7.60" r="3" stroke-width="1" vector-effect="non-scaling-stroke"/><circle cx="-14.28" cy="-5.20" r="3" stroke-width="1" vector-effect="non-scaling-stroke"/><circle cx="-3.93" cy="-14.68" r="3" stroke-width="1" vector-effect="non-scaling-stroke"/><circle cx="9.77" cy="-11.64" r="3" stroke-width="1" vector-effect="non-scaling-stroke"/></g>
<path d="M471.60,244.80 L523.30,274.00" fill="none" stroke="#222" stroke-width="1"/>
<path d="M525.59 271.30 L533.77 275.93 C532.53 279.48 531.30 281.79 529.75 283.02 L522.50 278.40 C521.42 275.62 523.27 272.22 525.59 271.30 Z" fill="#fff" stroke="#2b2b2b" stroke-width="0.9" />
<path d="M526.67 272.22 L524.04 278.70 M528.52 273.30 L526.05 279.94 M530.37 274.38 L527.90 281.02" fill="none" stroke="#2b2b2b" stroke-width="0.7" />
<path d="M533.77 275.93 C537.16 273.77 543.33 276.39 544.10 281.02 C544.57 285.65 540.25 289.51 536.39 288.27 C532.53 287.19 530.22 284.10 529.75 283.02 Z" fill="#fff" stroke="#2b2b2b" stroke-width="0.9" />
<path d="M536.39 288.27 C534.07 284.10 535.62 277.93 539.48 275.15" fill="none" stroke="#2b2b2b" stroke-width="0.8" />
<path d="M505.40,539.00 L505.40,558.00" fill="none" stroke="#555" stroke-width="1.25"/>
<path d="M562.80,596.60 L562.80,617.00" fill="none" stroke="#555" stroke-width="1.25"/>
<path d="M539.80,686.40 L539.80,704.60" fill="none" stroke="#555" stroke-width="1.25"/>
<g transform="translate(471.50,626.70) rotate(-64.7) scale(1,0.552)" fill="none" stroke="#2b2b2b" stroke-linecap="butt">
<circle r="72.60000000000001" fill="#fff" stroke-width="2.6" stroke="#333" stroke-dasharray="2.6 1.9" vector-effect="non-scaling-stroke"/>
<circle r="71.10000000000001" fill="#fff" stroke-width="0.9" vector-effect="non-scaling-stroke"/>
</g>
<path d="M474.42,693.39 L456.20,693.81 M470.26,693.88 L451.99,694.32 M466.28,693.77 L447.96,694.20 M462.51,693.06 L444.13,693.48 M458.99,691.75 L440.56,692.16 M455.74,689.86 L437.26,690.24 M452.79,687.40 L434.28,687.74 M450.18,684.39 L431.63,684.69 M447.93,680.87 L429.35,681.12 M446.05,676.86 L427.44,677.05 M444.57,672.40 L425.94,672.53 M443.49,667.53 L424.84,667.59 M442.83,662.29 L424.17,662.29 M442.59,656.74 L423.93,656.66 M442.78,650.92 L424.12,650.76 M443.38,644.89 L424.74,644.64 M444.41,638.69 L425.78,638.36 M445.85,632.40 L427.24,631.97 M447.68,626.05 L429.09,625.53 M449.89,619.71 L431.33,619.11 M452.46,613.45 L433.94,612.75 M455.36,607.30 L436.88,606.53 M458.57,601.34 L440.14,600.48 M462.07,595.61 L443.68,594.67 M465.81,590.17 L447.48,589.15 M469.76,585.06 L451.49,583.97 M473.90,580.34 L455.68,579.18 M478.17,576.04 L460.02,574.82 M482.55,572.20 L464.46,570.93 M486.99,568.86 L468.96,567.54 M491.46,566.05 L473.49,564.69 M495.91,563.79 L477.99,562.40 M500.29,562.11 L482.44,560.69 M504.58,561.01 L486.80,559.59 M508.74,560.52 L491.01,559.08 M512.72,560.63 L495.04,559.20 M516.49,561.34 L498.87,559.92" fill="none" stroke="#333" stroke-width="1.0" stroke-linecap="butt"/>
<path d="M474.42,694.99 L456.20,695.41 M470.26,695.48 L451.99,695.92 M466.28,695.37 L447.96,695.80 M462.51,694.66 L444.13,695.08 M458.99,693.35 L440.56,693.76 M455.74,691.46 L437.26,691.84 M452.79,689.00 L434.28,689.34 M450.18,685.99 L431.63,686.29 M447.93,682.47 L429.35,682.72 M446.05,678.46 L427.44,678.65 M444.57,674.00 L425.94,674.13 M443.49,669.13 L424.84,669.19 M442.83,663.89 L424.17,663.89 M442.59,658.34 L423.93,658.26 M442.78,652.52 L424.12,652.36 M443.38,646.49 L424.74,646.24 M444.41,640.29 L425.78,639.96 M445.85,634.00 L427.24,633.57 M447.68,627.65 L429.09,627.13 M449.89,621.31 L431.33,620.71 M452.46,615.05 L433.94,614.35 M455.36,608.90 L436.88,608.13 M458.57,602.94 L440.14,602.08 M462.07,597.21 L443.68,596.27 M465.81,591.77 L447.48,590.75 M469.76,586.66 L451.49,585.57 M473.90,581.94 L455.68,580.78 M478.17,577.64 L460.02,576.42 M482.55,573.80 L464.46,572.53 M486.99,570.46 L468.96,569.14 M491.46,567.65 L473.49,566.29 M495.91,565.39 L477.99,564.00 M500.29,563.71 L482.44,562.29 M504.58,562.61 L486.80,561.19 M508.74,562.12 L491.01,560.68 M512.72,562.23 L495.04,560.80 M516.49,562.94 L498.87,561.52" fill="none" stroke="#333" stroke-width="1.0" stroke-linecap="butt"/>
<g transform="translate(484.10,627.05) rotate(-64.7) scale(1,0.552)" fill="none" stroke="#2b2b2b" stroke-linecap="butt">
<circle r="71.4" stroke-width="0.9" vector-effect="non-scaling-stroke"/>
</g>
<g transform="translate(489.50,627.20) rotate(-64.7) scale(1,0.552)" fill="none" stroke="#2b2b2b" stroke-linecap="butt">
<circle r="71.4" fill="#fff" stroke-width="1.1" vector-effect="non-scaling-stroke"/>
<circle r="64.9" stroke-width="0.9" vector-effect="non-scaling-stroke"/>
<circle cx="65.68" cy="17.60" r="1.9" fill="#fff" stroke-width="0.9" vector-effect="non-scaling-stroke"/>
<circle cx="17.60" cy="65.68" r="1.9" fill="#fff" stroke-width="0.9" vector-effect="non-scaling-stroke"/>
<circle cx="-48.08" cy="48.08" r="1.9" fill="#fff" stroke-width="0.9" vector-effect="non-scaling-stroke"/>
<circle cx="-65.68" cy="-17.60" r="1.9" fill="#fff" stroke-width="0.9" vector-effect="non-scaling-stroke"/>
<circle cx="-17.60" cy="-65.68" r="1.9" fill="#fff" stroke-width="0.9" vector-effect="non-scaling-stroke"/>
<circle cx="48.08" cy="-48.08" r="1.9" fill="#fff" stroke-width="0.9" vector-effect="non-scaling-stroke"/>
</g>
<g transform="translate(487.2,629.1) rotate(-62) scale(1,0.614)" fill="none" stroke="#2b2b2b"><circle r="36.9" stroke-width="0.9" vector-effect="non-scaling-stroke"/><circle r="34.6" stroke-width="0.8" vector-effect="non-scaling-stroke"/></g>
<g transform="translate(483,626.9) rotate(-62) scale(1,0.614)" fill="none" stroke="#2b2b2b"><circle r="26.2" stroke-width="1.9" vector-effect="non-scaling-stroke"/><circle r="23.6" stroke-width="0.8" vector-effect="non-scaling-stroke"/><circle r="3.6" stroke-width="1.2" vector-effect="non-scaling-stroke"/><circle r="1.7" stroke-width="0.8" vector-effect="non-scaling-stroke"/><circle cx="14.97" cy="-4.01" r="2.8" fill="#fff" stroke-width="0.95" vector-effect="non-scaling-stroke"/><circle cx="14.05" cy="6.55" r="2.8" fill="#fff" stroke-width="0.95" vector-effect="non-scaling-stroke"/><circle cx="2.69" cy="15.26" r="2.8" fill="#fff" stroke-width="0.95" vector-effect="non-scaling-stroke"/><circle cx="-11.87" cy="9.96" r="2.8" fill="#fff" stroke-width="0.95" vector-effect="non-scaling-stroke"/><circle cx="-14.97" cy="-4.01" r="2.8" fill="#fff" stroke-width="0.95" vector-effect="non-scaling-stroke"/><circle cx="-5.30" cy="-14.57" r="2.8" fill="#fff" stroke-width="0.95" vector-effect="non-scaling-stroke"/><circle cx="7.75" cy="-13.42" r="2.8" fill="#fff" stroke-width="0.95" vector-effect="non-scaling-stroke"/></g>
<path d="M487.40,577.00 L560.00,618.60" fill="none" stroke="#222" stroke-width="1"/>
<path d="M560.2,617 L564.6,617.4 Q567,618.4 566.8,621 Q566.4,623.6 563.6,624.2 L559.6,622.6 Q558.4,619.6 560.2,617 Z" fill="#fff" stroke="#2b2b2b" stroke-width="0.9" />
<path d="M564.6,617.4 Q562.4,620 563.6,624.2" fill="none" stroke="#2b2b2b" stroke-width="0.7" />
<path d="M477.60,642.20 L528.60,671.40" fill="none" stroke="#222" stroke-width="1"/>
<path d="M530.55 668.54 L538.54 672.86 C537.25 676.75 535.95 679.34 534.44 680.64 L527.74 675.89 C526.88 672.86 528.39 669.84 530.55 668.54 Z" fill="#fff" stroke="#2b2b2b" stroke-width="0.9" />
<path d="M531.63 669.84 L529.47 675.89 M533.79 671.13 L531.63 677.18 M535.95 672.43 L533.36 678.48" fill="none" stroke="#2b2b2b" stroke-width="0.7" />
<path d="M538.54 672.86 C542.43 671.13 548.48 674.16 548.91 678.91 C548.91 683.66 544.59 686.68 540.70 685.39 C537.25 684.09 535.09 681.93 534.44 680.64 Z" fill="#fff" stroke="#2b2b2b" stroke-width="0.9" />
<path d="M540.70 685.39 C538.54 681.07 540.27 675.02 544.16 672.86" fill="none" stroke="#2b2b2b" stroke-width="0.8" />
<rect x="485.35" y="525.95" width="40.30" height="12.30" fill="#fff" stroke="none"/>
<text x="487.00" y="536.90" fill="#2a2ad8" stroke="#2a2ad8" stroke-width="0.4" font-size="13" textLength="37.2" lengthAdjust="spacingAndGlyphs">23210</text>
<rect x="485.35" y="525.95" width="40.30" height="12.30" fill="none" stroke="#12619a" stroke-width="1.9" stroke-linejoin="miter"/>
<rect x="538.95" y="583.35" width="49.10" height="12.30" fill="#fff" stroke="none"/>
<text x="540.60" y="594.30" fill="#2a2ad8" stroke="#2a2ad8" stroke-width="0.4" font-size="13" textLength="46.0" lengthAdjust="spacingAndGlyphs">1430JD</text>
<rect x="538.95" y="583.35" width="49.10" height="12.30" fill="none" stroke="#12619a" stroke-width="1.9" stroke-linejoin="miter"/>
<rect x="515.95" y="708.95" width="49.90" height="12.30" fill="#fff" stroke="none"/>
<text x="517.60" y="719.90" fill="#2a2ad8" stroke="#2a2ad8" stroke-width="0.4" font-size="13" textLength="46.8" lengthAdjust="spacingAndGlyphs">23311A</text>
<rect x="515.95" y="708.95" width="49.90" height="12.30" fill="none" stroke="#12619a" stroke-width="1.9" stroke-linejoin="miter"/>
<path d="M88.90,374.60 L88.90,394.00" fill="none" stroke="#555" stroke-width="1.25"/>
<path d="M138.60,363.30 L138.60,384.60" fill="none" stroke="#555" stroke-width="1.25"/>
<g transform="translate(128.10,425.20) rotate(-76) scale(0.96,0.6144)" fill="none" stroke="#2b2b2b" stroke-linecap="butt">
<circle r="42.4" fill="#c2c2c2" stroke-width="0.95" vector-effect="non-scaling-stroke"/>
</g>
<g transform="translate(129.96,425.27) rotate(-76) scale(0.9657142857142857,0.6180571428571429)" fill="none" stroke="#2b2b2b" stroke-linecap="butt">
<circle r="42.4" fill="#fff" stroke-width="0.95" vector-effect="non-scaling-stroke"/>
</g>
<g transform="translate(131.81,425.34) rotate(-76) scale(0.9714285714285714,0.6217142857142858)" fill="none" stroke="#2b2b2b" stroke-linecap="butt">
<circle r="42.4" fill="#c2c2c2" stroke-width="0.95" vector-effect="non-scaling-stroke"/>
</g>
<g transform="translate(133.67,425.41) rotate(-76) scale(0.9771428571428571,0.6253714285714286)" fill="none" stroke="#2b2b2b" stroke-linecap="butt">
<circle r="42.4" fill="#fff" stroke-width="0.95" vector-effect="non-scaling-stroke"/>
</g>
<g transform="translate(135.53,425.49) rotate(-76) scale(0.9828571428571429,0.6290285714285715)" fill="none" stroke="#2b2b2b" stroke-linecap="butt">
<circle r="42.4" fill="#c2c2c2" stroke-width="0.95" vector-effect="non-scaling-stroke"/>
</g>
<g transform="translate(137.39,425.56) rotate(-76) scale(0.9885714285714285,0.6326857142857143)" fill="none" stroke="#2b2b2b" stroke-linecap="butt">
<circle r="42.4" fill="#fff" stroke-width="0.95" vector-effect="non-scaling-stroke"/>
</g>
<g transform="translate(139.24,425.63) rotate(-76) scale(0.9942857142857143,0.6363428571428572)" fill="none" stroke="#2b2b2b" stroke-linecap="butt">
<circle r="42.4" fill="#c2c2c2" stroke-width="0.95" vector-effect="non-scaling-stroke"/>
</g>
<g transform="translate(141.10,425.70) rotate(-76) scale(1.0,0.64)" fill="none" stroke="#2b2b2b" stroke-linecap="butt">
<circle r="42.4" fill="#fff" stroke-width="1.1" vector-effect="non-scaling-stroke"/>
<circle r="34.34" fill="#fff" stroke-width="1" vector-effect="non-scaling-stroke"/>
</g>
<g transform="translate(138.90,426.00) rotate(-76) scale(1.0,0.64)" fill="none" stroke="#2b2b2b" stroke-linecap="butt">
<circle r="31.59" fill="#fff" stroke-width="2.4" stroke="#444" vector-effect="non-scaling-stroke"/>
</g>
<g transform="translate(142.50,428.90) rotate(-76) scale(1.0,0.64)" fill="none" stroke="#2b2b2b" stroke-linecap="butt">
<path d="M14.96,1.05 L29.45,6.26 M12.14,8.82 L26.58,14.13" stroke-width="0.9" vector-effect="non-scaling-stroke"/>
<path d="M6.58,13.48 L9.30,28.63 M-1.57,14.92 L1.05,30.09" stroke-width="0.9" vector-effect="non-scaling-stroke"/>
<path d="M-8.39,12.44 L-20.14,22.37 M-13.70,6.10 L-25.53,15.95" stroke-width="0.9" vector-effect="non-scaling-stroke"/>
<path d="M-14.96,-1.05 L-29.45,-6.26 M-12.14,-8.82 L-26.58,-14.13" stroke-width="0.9" vector-effect="non-scaling-stroke"/>
<path d="M-6.58,-13.48 L-9.30,-28.63 M1.57,-14.92 L-1.05,-30.09" stroke-width="0.9" vector-effect="non-scaling-stroke"/>
<path d="M8.39,-12.44 L20.14,-22.37 M13.70,-6.10 L25.53,-15.95" stroke-width="0.9" vector-effect="non-scaling-stroke"/>
<circle r="17.5" fill="#fff" stroke-width="1" vector-effect="non-scaling-stroke"/>
<circle r="14.8" fill="#fff" stroke-width="1.5" stroke="#333" vector-effect="non-scaling-stroke"/>
</g>
<g transform="translate(144.70,428.50) rotate(-76) scale(1.0,0.64)" fill="none" stroke="#2b2b2b" stroke-linecap="butt">
<circle r="11.4" fill="#fff" stroke-width="1" vector-effect="non-scaling-stroke"/>
<circle r="7.8" fill="#bbb" stroke-width="1.3" vector-effect="non-scaling-stroke"/>
<circle r="4.4" fill="#fff" stroke-width="1" vector-effect="non-scaling-stroke"/>
</g>
<path d="M81.30 390.56 L101.85 401.85 C104.44 402.78 104.26 408.33 100.74 410.19 L98.89 409.81 L78.06 398.33 Z" fill="#fff" stroke="#2b2b2b" stroke-width="0.9" />
<path d="M89.17 394.91 L87.78 402.78 M91.02 395.93 L89.63 403.89 M92.87 396.94 L91.48 405.00 M94.72 397.96 L93.33 406.11 M96.57 398.98 L95.19 407.22 M98.43 400.00 L97.04 408.33" fill="none" stroke="#444" stroke-width="1.1" />
<ellipse cx="101.20" cy="406.02" rx="2.9" ry="4.3" transform="rotate(25 101.20 406.02)" fill="#fff" stroke="#2b2b2b" stroke-width="0.9"/>
<path d="M73.89 393.52 C73.89 388.89 78.52 384.72 82.69 385.65 C85.46 386.57 85.46 390.28 84.26 393.52 C82.69 397.69 78.98 400.93 75.93 400.00 C73.89 399.26 73.70 396.30 73.89 393.52 Z" fill="#fff" stroke="#2b2b2b" stroke-width="0.9" />
<path d="M67.41 391.20 L71.57 383.80 L77.13 383.52 L80.56 386.85 L76.67 388.89 C74.81 391.20 73.89 394.91 74.35 398.15 L69.72 394.91 Z" fill="#fff" stroke="#2b2b2b" stroke-width="0.9" />
<path d="M71.57 383.80 L74.81 387.96 L76.67 388.89 M74.81 387.96 C72.50 391.20 72.04 394.44 73.43 397.69 M69.72 394.91 L69.26 393.06" fill="none" stroke="#2b2b2b" stroke-width="0.8" />
<rect x="64.35" y="361.45" width="49.30" height="12.30" fill="#fff" stroke="none"/>
<text x="66.00" y="372.40" fill="#2a2ad8" stroke="#2a2ad8" stroke-width="0.4" font-size="13" textLength="46.2" lengthAdjust="spacingAndGlyphs">23127B</text>
<rect x="64.35" y="361.45" width="49.30" height="12.30" fill="none" stroke="#12619a" stroke-width="1.9" stroke-linejoin="miter"/>
<rect x="113.55" y="350.05" width="49.50" height="12.40" fill="#fff" stroke="none"/>
<text x="115.20" y="361.00" fill="#2a2ad8" stroke="#2a2ad8" stroke-width="0.4" font-size="13" textLength="46.4" lengthAdjust="spacingAndGlyphs">23124B</text>
<rect x="113.55" y="350.05" width="49.50" height="12.40" fill="none" stroke="#12619a" stroke-width="1.9" stroke-linejoin="miter"/>
<path d="M215.00,419.20 L215.00,438.40" fill="none" stroke="#555" stroke-width="1.25"/>
<path d="M215.00,446.00 L215.00,464.00" fill="none" stroke="#555" stroke-width="1.25"/>
<path d="M338.80,444.00 L338.80,461.00" fill="none" stroke="#555" stroke-width="1.25"/>
<path d="M282.40,474.50 L282.40,428.90 L394.40,492.90 L394.40,507.60" fill="none" stroke="#555" stroke-width="1.25"/>
<path d="M394.40,522.40 L394.40,559.60" fill="none" stroke="#555" stroke-width="1.25"/>
<path d="M291.20 533.59 L315.83 520.16 L327.03 517.92 L329.27 544.79 L325.91 552.63 L320.31 558.23 C316.95 561.59 311.35 561.59 308.00 558.23 L296.80 550.39 L291.20 549.27 Z" fill="#fff" stroke="#fff" stroke-width="0.01" />
<path d="M306.88 530.24 C300.16 534.71 295.68 542.55 296.80 550.39 M318.07 519.04 C310.24 525.76 305.76 539.19 307.44 553.75 M324.79 517.92 C318.07 522.40 311.35 533.59 312.47 541.43 C313.59 544.79 318.07 547.03 322.55 548.15 M307.44 553.75 L325.91 544.79" fill="none" stroke="#2b2b2b" stroke-width="1.0" />
<path d="M296.80 550.39 C300.16 553.75 304.64 555.99 308.00 558.23 C311.35 561.59 316.95 561.59 320.31 558.23 L325.91 552.63" fill="none" stroke="#2b2b2b" stroke-width="1.1" />
<path d="M302.40 536.95 C299.60 541.43 299.04 547.03 300.72 552.07" fill="none" stroke="#2b2b2b" stroke-width="1.3" />
<path d="M338.18 508.86 C331.23 511.94 325.83 520.43 325.06 531.23 C324.75 540.49 331.23 549.75 338.18 555.93 L340.49 566.73 C335.86 569.81 328.15 571.36 326.14 577.53 C325.06 582.16 328.15 584.94 332.78 584.48 C343.58 582.93 352.84 579.07 359.01 575.99 L357.47 540.49 L364.41 534.32 L364.41 525.83 L350.52 518.12 C348.98 513.49 344.35 509.63 338.18 508.86 Z" fill="#fff" stroke="#2b2b2b" stroke-width="1.1" />
<path d="M338.18 508.86 C342.04 511.17 345.43 515.80 345.90 521.98 C346.36 531.23 339.72 543.58 340.80 555.93 L340.49 566.73 C342.04 571.36 346.67 572.90 351.30 571.36" fill="none" stroke="#2b2b2b" stroke-width="1.0" />
<path d="M345.90 521.67 L364.41 525.83 M340.19 533.09 L364.41 523.83 M340.80 543.89 L364.41 534.32" fill="none" stroke="#2b2b2b" stroke-width="1.0" />
<path d="M335.09 569.81 C332.78 574.44 334.32 579.85 338.18 582.93" fill="none" stroke="#2b2b2b" stroke-width="1.0" />
<ellipse cx="337.87" cy="521.20" rx="1.3" ry="1.1" fill="#fff" stroke="#2b2b2b" stroke-width="0.8"/>
<path d="M263.06 505.28 C261.67 496.94 267.22 487.22 274.86 481.67 C282.50 476.81 293.61 474.03 301.94 477.22 L307.50 483.75 C314.44 485.83 320.69 487.92 323.47 492.08 C325.56 496.94 324.44 503.89 317.22 509.44 L315.83 513.61 L318.61 518.47 L290.83 531.67 L290.83 548.33 L284.58 542.78 L279.72 540.00 L271.39 540.00 L263.06 538.61 C256.11 533.06 253.33 523.33 254.72 510.83 C255.42 505.28 257.50 499.72 258.89 496.94 Z" fill="#fff" stroke="#2b2b2b" stroke-width="1.1" />
<path d="M263.06 505.28 L270.00 512.92 L274.86 511.53 M270.00 512.92 C269.31 505.28 273.47 496.25 281.81 488.61 C289.44 482.36 299.17 478.89 306.81 480.97" fill="none" stroke="#2b2b2b" stroke-width="1.0" />
<path d="M274.86 511.53 C276.25 503.89 281.81 495.56 290.14 489.31 C297.08 484.44 303.33 483.06 307.50 483.75" fill="none" stroke="#2b2b2b" stroke-width="1.0" />
<path d="M284.58 520.56 C283.19 510.83 288.06 501.81 297.08 494.17 C304.72 488.61 315.83 485.83 322.08 490.00" fill="none" stroke="#2b2b2b" stroke-width="1.0" />
<path d="M284.58 520.56 L290.83 521.94 L317.22 509.44 M317.22 509.44 C315.14 512.22 315.83 515.69 318.61 518.47" fill="none" stroke="#2b2b2b" stroke-width="1.0" />
<path d="M290.83 521.94 L290.83 548.33 M284.58 520.56 L284.58 542.78" fill="none" stroke="#2b2b2b" stroke-width="1.0" />
<path d="M274.86 511.53 L274.86 531.67 C275.56 535.83 277.64 538.61 279.72 540.00" fill="none" stroke="#2b2b2b" stroke-width="1.0" />
<path d="M263.06 505.28 C260.97 510.83 260.28 520.56 262.36 527.50 M267.92 517.08 C265.83 523.33 266.53 531.67 271.39 537.22 M258.89 517.78 L258.89 506.67" fill="none" stroke="#2b2b2b" stroke-width="1.0" />
<path d="M248.47 498.47 L258.19 486.39 L268.61 490.14 L260.28 500.56 L256.11 510.28 L248.47 506.11 Z" fill="#fff" stroke="#fff" stroke-width="0.01" />
<path d="M248.47 506.11 L248.47 498.47 C249.17 492.22 253.33 487.36 258.19 486.39 L267.92 489.72 M248.47 506.11 L255.42 509.58" fill="none" stroke="#2b2b2b" stroke-width="0.9" />
<path d="M224.86 465.83 L229.72 467.22 C231.81 461.67 236.67 456.81 242.22 456.11 L250.56 458.89 L268.61 473.47 C271.11 476.94 270.69 482.50 267.22 490.83 L258.19 486.39 C253.33 488.06 249.86 492.92 248.47 498.47 L248.47 506.11 L250.56 511.67 C249.17 515.14 243.61 518.61 236.67 520.69 C232.50 522.08 224.86 522.08 221.39 520.00 C215.83 517.22 214.44 510.28 217.92 504.03 C220.69 499.17 224.86 495.69 224.58 492.22 L222.08 487.36 L224.86 486.67 Z" fill="#fff" stroke="#2b2b2b" stroke-width="1.1" />
<path d="M229.72 467.22 C229.03 475.56 232.22 486.67 231.39 492.22 C230.42 500.56 224.86 506.11 224.86 511.67 L224.86 520.69" fill="none" stroke="#2b2b2b" stroke-width="1.0" />
<path d="M224.86 511.67 L235.28 507.50 L240.83 504.72 L248.47 510.28" fill="none" stroke="#2b2b2b" stroke-width="1.0" />
<path d="M240.83 504.72 L240.83 486.67 C240.14 475.56 242.92 464.44 250.56 458.89" fill="none" stroke="#2b2b2b" stroke-width="1.0" />
<path d="M235.28 467.92 C235.97 463.06 239.44 458.89 243.61 457.50" fill="none" stroke="#2b2b2b" stroke-width="1.0" />
<path d="M243.61 474.44 L260.00 467.22 M243.61 486.94 L268.89 474.86 M243.61 474.44 L243.61 486.94" fill="none" stroke="#2b2b2b" stroke-width="1.0" />
<ellipse cx="260.28" cy="489.17" rx="1.8" ry="1.2" fill="#fff" stroke="#2b2b2b" stroke-width="0.8"/>
<path d="M206.81 461.11 L215.83 464.44 L224.86 465.83 L224.86 486.67 L222.08 487.36 L213.06 482.78 L211.39 479.17 L205.42 476.11 C200.83 474.86 201.25 463.06 206.81 461.11 Z" fill="#fff" stroke="#2b2b2b" stroke-width="1.1" />
<ellipse cx="204.72" cy="469.72" rx="3.05" ry="6.4" transform="rotate(-8 204.72 469.72)" fill="#fff" stroke="#2b2b2b" stroke-width="0.9"/>
<path d="M207.78 462.78 L213.75 465.56 L214.58 467.22 L209.17 464.72 Z" fill="#444" stroke="#2b2b2b" stroke-width="0.7" />
<path d="M215.56 464.44 C211.67 467.22 210.28 476.94 213.06 482.78 M219.44 465.28 C215.83 468.61 215.14 479.72 217.92 485.28 M223.19 465.83 C220.00 470.00 219.31 481.11 222.08 487.36" fill="none" stroke="#2b2b2b" stroke-width="1.0" />
<ellipse cx="365.49" cy="559.32" rx="9.40" ry="19.40" transform="rotate(18 365.49 559.32)" fill="#fff" stroke="#2b2b2b" stroke-width="0.9"/>
<ellipse cx="370.59" cy="558.55" rx="9.80" ry="19.00" transform="rotate(18 370.59 558.55)" fill="#fff" stroke="#2b2b2b" stroke-width="0.9"/>
<ellipse cx="368.58" cy="560.86" rx="5.80" ry="8.40" transform="rotate(18 368.58 560.86)" fill="#fff" stroke="#2b2b2b" stroke-width="0.9"/>
<ellipse cx="368.58" cy="560.86" rx="2.90" ry="5.00" transform="rotate(18 368.58 560.86)" fill="#fff" stroke="#2b2b2b" stroke-width="1.1"/>
<ellipse cx="373.21" cy="544.35" rx="1.20" ry="1.90" transform="rotate(18 373.21 544.35)" fill="#fff" stroke="#2b2b2b" stroke-width="0.8"/>
<ellipse cx="360.86" cy="550.99" rx="1.20" ry="1.90" transform="rotate(18 360.86 550.99)" fill="#fff" stroke="#2b2b2b" stroke-width="0.8"/>
<ellipse cx="355.31" cy="566.11" rx="1.20" ry="1.90" transform="rotate(18 355.31 566.11)" fill="#fff" stroke="#2b2b2b" stroke-width="0.8"/>
<ellipse cx="361.48" cy="574.75" rx="1.20" ry="1.90" transform="rotate(18 361.48 574.75)" fill="#fff" stroke="#2b2b2b" stroke-width="0.8"/>
<ellipse cx="372.44" cy="568.58" rx="1.20" ry="1.90" transform="rotate(18 372.44 568.58)" fill="#fff" stroke="#2b2b2b" stroke-width="0.8"/>
<ellipse cx="377.84" cy="551.30" rx="1.20" ry="1.90" transform="rotate(18 377.84 551.30)" fill="#fff" stroke="#2b2b2b" stroke-width="0.8"/>
<path d="M365.20,545.90 L390.80,562.20" fill="none" stroke="#222" stroke-width="1"/>
<path d="M390.8,560 L395,559.4 Q397.6,560.2 397.6,562.6 Q397.2,565 394.6,565.4 L390.6,564.4 Q389.6,562 390.8,560 Z" fill="#fff" stroke="#2b2b2b" stroke-width="0.9" />
<path d="M395,559.4 Q393,562 394.6,565.4" fill="none" stroke="#2b2b2b" stroke-width="0.7" />
<path d="M211.6,439.6 L217.4,441.6 Q219.4,443 218.6,445 L212.6,443.2 Q210.8,441.6 211.6,439.6 Z" fill="#fff" stroke="#2b2b2b" stroke-width="0.9" />
<path d="M212.6,443.2 L213.2,441 L218.6,442.8" fill="none" stroke="#2b2b2b" stroke-width="0.7" />
<rect x="194.95" y="405.95" width="40.80" height="12.30" fill="#fff" stroke="none"/>
<text x="196.60" y="416.90" fill="#2a2ad8" stroke="#2a2ad8" stroke-width="0.4" font-size="13" textLength="37.7" lengthAdjust="spacingAndGlyphs">23125</text>
<rect x="194.95" y="405.95" width="40.80" height="12.30" fill="none" stroke="#12619a" stroke-width="1.9" stroke-linejoin="miter"/>
<rect x="319.45" y="431.15" width="39.40" height="12.20" fill="#fff" stroke="none"/>
<text x="321.10" y="442.10" fill="#2a2ad8" stroke="#2a2ad8" stroke-width="0.4" font-size="13" textLength="36.3" lengthAdjust="spacingAndGlyphs">23110</text>
<rect x="319.45" y="431.15" width="39.40" height="12.20" fill="none" stroke="#12619a" stroke-width="1.9" stroke-linejoin="miter"/>
<rect x="370.35" y="508.95" width="51.10" height="12.40" fill="#fff" stroke="none"/>
<text x="372.00" y="519.90" fill="#2a2ad8" stroke="#2a2ad8" stroke-width="0.4" font-size="13" textLength="48.0" lengthAdjust="spacingAndGlyphs">21121A</text>
<rect x="370.35" y="508.95" width="51.10" height="12.40" fill="none" stroke="#12619a" stroke-width="1.9" stroke-linejoin="miter"/>
<mask id="wmm" maskUnits="userSpaceOnUse" x="160" y="370" width="330" height="70"><rect x="160" y="370" width="330" height="70" fill="#fff"/><text y="420.8" font-size="51.5" fill="#000" stroke="#000" stroke-width="1.0"><tspan x="176.25" textLength="23.90" lengthAdjust="spacingAndGlyphs">S</tspan><tspan x="201.12" textLength="28.86" lengthAdjust="spacingAndGlyphs">e</tspan><tspan x="232.97" textLength="26.94" lengthAdjust="spacingAndGlyphs">d</tspan><tspan x="260.64" textLength="24.66" lengthAdjust="spacingAndGlyphs">a</tspan><tspan x="290.23" textLength="26.69" lengthAdjust="spacingAndGlyphs">n</tspan><tspan x="319.18" textLength="29.44" lengthAdjust="spacingAndGlyphs">V</tspan><tspan x="349.33" textLength="10.85" lengthAdjust="spacingAndGlyphs">i</tspan><tspan x="360.55" textLength="27.09" lengthAdjust="spacingAndGlyphs">e</tspan><tspan x="390.50" textLength="13.03" lengthAdjust="spacingAndGlyphs">t</tspan><tspan x="405.32" textLength="12.45" lengthAdjust="spacingAndGlyphs">.</tspan><tspan x="420.82" textLength="22.46" lengthAdjust="spacingAndGlyphs">v</tspan><tspan x="444.88" textLength="26.30" lengthAdjust="spacingAndGlyphs">n</tspan></text></mask>
<text y="420.8" font-size="51.5" fill="#a2a2a2" stroke="#a2a2a2" stroke-width="3.5" mask="url(#wmm)"><tspan x="176.25" textLength="23.90" lengthAdjust="spacingAndGlyphs">S</tspan><tspan x="201.12" textLength="28.86" lengthAdjust="spacingAndGlyphs">e</tspan><tspan x="232.97" textLength="26.94" lengthAdjust="spacingAndGlyphs">d</tspan><tspan x="260.64" textLength="24.66" lengthAdjust="spacingAndGlyphs">a</tspan><tspan x="290.23" textLength="26.69" lengthAdjust="spacingAndGlyphs">n</tspan><tspan x="319.18" textLength="29.44" lengthAdjust="spacingAndGlyphs">V</tspan><tspan x="349.33" textLength="10.85" lengthAdjust="spacingAndGlyphs">i</tspan><tspan x="360.55" textLength="27.09" lengthAdjust="spacingAndGlyphs">e</tspan><tspan x="390.50" textLength="13.03" lengthAdjust="spacingAndGlyphs">t</tspan><tspan x="405.32" textLength="12.45" lengthAdjust="spacingAndGlyphs">.</tspan><tspan x="420.82" textLength="22.46" lengthAdjust="spacingAndGlyphs">v</tspan><tspan x="444.88" textLength="26.30" lengthAdjust="spacingAndGlyphs">n</tspan></text>
</svg>
</body>
</html>
